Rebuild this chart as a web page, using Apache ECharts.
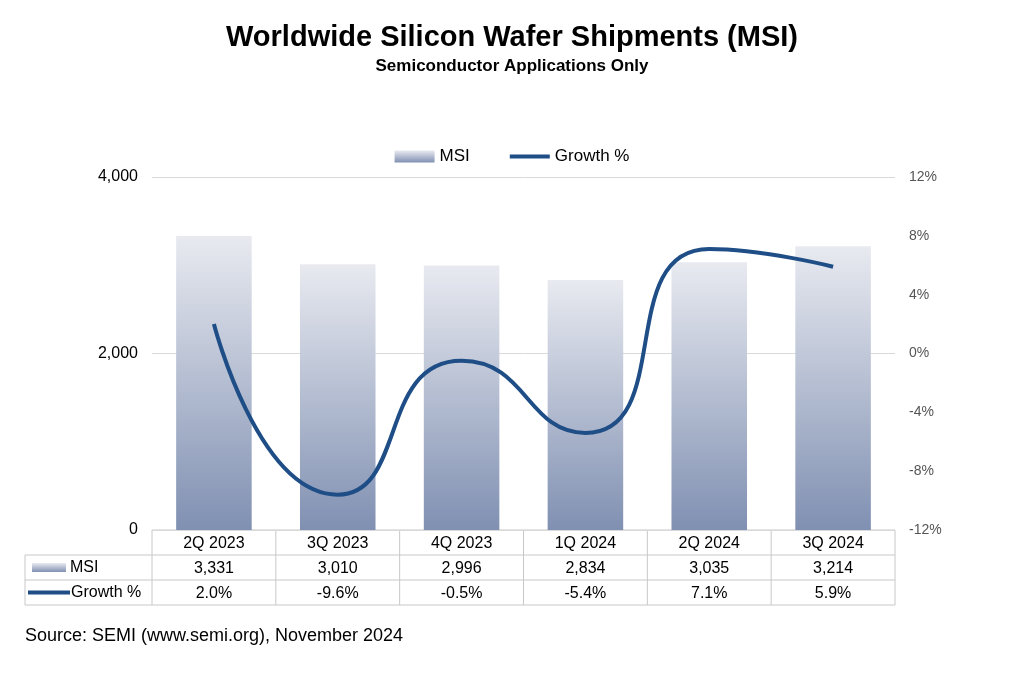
<!DOCTYPE html>
<html><head><meta charset="utf-8">
<script src="https://cdn.jsdelivr.net/npm/echarts@6/dist/echarts.min.js"></script>
<style>html,body{margin:0;padding:0;background:#fff}#c{width:1024px;height:683px}</style>
</head><body><div id="c"></div>
<script>
const categories=['2Q 2023','3Q 2023','4Q 2023','1Q 2024','2Q 2024','3Q 2024'];
const msi=[3331,3010,2996,2834,3035,3214];
const growth=[2.0,-9.6,-0.5,-5.4,7.1,5.9];
const msiLabels=['3,331','3,010','2,996','2,834','3,035','3,214'];
const growthLabels=['2.0%','-9.6%','-0.5%','-5.4%','7.1%','5.9%'];
const chart=echarts.init(document.getElementById('c'));
const L=152,R=895,T=177,B=530,cw=(R-L)/6,rh=25;
const grad=new echarts.graphic.LinearGradient(0,0,0,1,[{offset:0,color:'#e8eaf0'},{offset:1,color:'#8090b2'}]);
const lineC='#1f4e87',bc='#c8c8c8';
const g=[];
[B+rh,B+2*rh,B+3*rh].forEach(y=>g.push({type:'line',shape:{x1:25,y1:y,x2:R,y2:y},style:{stroke:bc,lineWidth:1}}));
g.push({type:'line',shape:{x1:L,y1:B,x2:R,y2:B},style:{stroke:bc,lineWidth:1}});
for(let k=0;k<=6;k++)g.push({type:'line',shape:{x1:L+cw*k,y1:B,x2:L+cw*k,y2:B+3*rh},style:{stroke:bc,lineWidth:1}});
g.push({type:'line',shape:{x1:25,y1:B+rh,x2:25,y2:B+3*rh},style:{stroke:bc,lineWidth:1}});
g.push({type:'rect',shape:{x:32,y:B+rh+8,width:34,height:9},style:{fill:grad}});
g.push({type:'text',style:{x:70,y:B+rh*1.5,text:'MSI',font:'16px Arial',fill:'#000',verticalAlign:'middle'}});
g.push({type:'line',shape:{x1:28,y1:B+rh*2.5,x2:70,y2:B+rh*2.5},style:{stroke:lineC,lineWidth:4}});
g.push({type:'text',style:{x:71,y:B+rh*2.5,text:'Growth %',font:'16px Arial',fill:'#000',verticalAlign:'middle'}});
g.push({type:'text',style:{x:25,y:636,text:'Source: SEMI (www.semi.org), November 2024',font:'18px Arial',fill:'#000',verticalAlign:'middle'}});
chart.setOption({
 animation:false,
 title:{text:'Worldwide Silicon Wafer Shipments (MSI)',subtext:'Semiconductor Applications Only',left:'center',top:18,itemGap:6,
  textStyle:{fontFamily:'Arial',fontWeight:'bold',fontSize:29,color:'#000'},subtextStyle:{fontFamily:'Arial',fontWeight:'bold',fontSize:17,color:'#000'}},
 legend:{top:143,left:'center',itemGap:40,textStyle:{fontFamily:'Arial',fontSize:17,color:'#000'},
  data:[{name:'MSI',icon:'rect',itemStyle:{color:grad}},{name:'Growth %',icon:'path://M0,0H40V4H0Z',itemStyle:{color:lineC}}],itemWidth:40,itemHeight:12},
 grid:{left:L,right:1024-R,top:T,bottom:683-B},
 xAxis:{type:'category',data:categories,axisTick:{show:false},axisLine:{show:false},
  axisLabel:{interval:0,margin:1,formatter:(v,i)=>v+'\n'+msiLabels[i]+'\n'+growthLabels[i],lineHeight:25,fontFamily:'Arial',fontSize:16,color:'#000'}},
 yAxis:[{type:'value',min:0,max:4000,interval:2000,axisLabel:{formatter:v=>v.toLocaleString('en-US'),fontFamily:'Arial',fontSize:16,color:'#000',margin:14},
   splitLine:{lineStyle:{color:'#d9d9d9'}}},
  {type:'value',min:-12,max:12,interval:4,axisLabel:{formatter:'{value}%',fontFamily:'Arial',fontSize:14,color:'#555',margin:14},splitLine:{show:false}}],
 series:[{name:'MSI',type:'bar',data:msi,barWidth:'61%',itemStyle:{color:grad}},
  {name:'Growth %',type:'line',yAxisIndex:1,data:growth,smooth:0.6,symbol:'none',lineStyle:{color:lineC,width:4}}],
 graphic:g
});
</script></body></html>
